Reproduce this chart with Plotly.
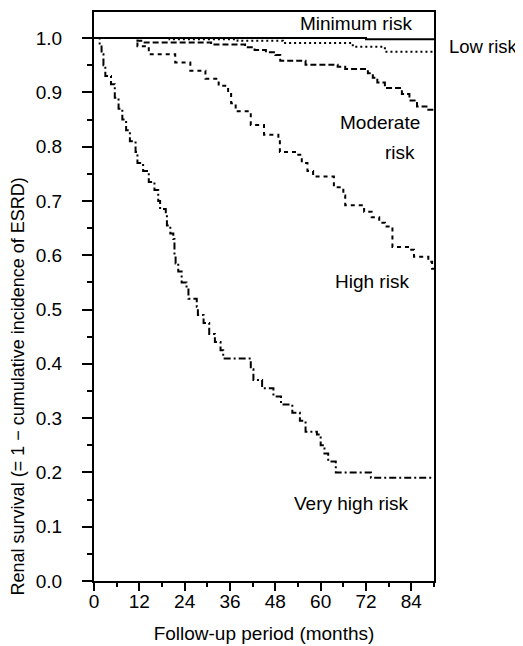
import plotly.graph_objects as go

# ---- data (months, survival) ----
min_x = [0, 72, 90]
min_y = [1.0, 0.998, 0.998]

low_x = [0, 20, 38, 50, 68.5, 77, 90]
low_y = [1.0, 0.998, 0.995, 0.991, 0.984, 0.975, 0.975]

mod_x = [0, 11.5, 13, 31, 40, 42.5, 45.5, 48, 49.3, 56, 64.5, 66.5, 72.5, 73.8, 75, 77, 81.5, 83.5, 85.5, 88, 90]
mod_y = [1.0, 0.995, 0.992, 0.988, 0.983, 0.978, 0.974, 0.969, 0.958, 0.951, 0.947, 0.943, 0.935, 0.927, 0.918, 0.908, 0.897, 0.885, 0.874, 0.868, 0.868]

high_x = [0, 11.5, 14.5, 21.5, 25.5, 29.5, 33, 35.5, 36.3, 37.5, 41.5, 45, 48.8, 49.2, 53.5, 55, 56.5, 58, 63.5, 66, 66.5, 71.5, 73.5, 75.5, 77, 79, 83.5, 84.7, 88.5, 89.5, 90]
high_y = [1.0, 0.985, 0.97, 0.955, 0.94, 0.925, 0.912, 0.897, 0.88, 0.865, 0.84, 0.822, 0.81, 0.79, 0.785, 0.77, 0.755, 0.745, 0.725, 0.71, 0.692, 0.68, 0.67, 0.66, 0.653, 0.615, 0.61, 0.597, 0.588, 0.575, 0.575]

vhigh_x = [0, 1.5, 2, 2.5, 3, 4.5, 5.5, 6.5, 7.5, 8.5, 9.5, 11, 11.5, 13, 14.5, 16, 17, 17.5, 19, 19.3, 20.2, 21, 21.3, 21.6, 22.3, 23.2, 24.5, 25, 27.2, 27.5, 29, 30.5, 32, 33.5, 34.2, 41.5, 42.2, 44.5, 47.5, 49.5, 52.5, 54.5, 56, 59, 60, 61, 62, 64, 73.3, 90]
vhigh_y = [1.0, 0.99, 0.97, 0.95, 0.93, 0.915, 0.89, 0.87, 0.85, 0.83, 0.81, 0.79, 0.77, 0.755, 0.735, 0.72, 0.70, 0.685, 0.675, 0.655, 0.64, 0.63, 0.60, 0.585, 0.57, 0.55, 0.54, 0.52, 0.505, 0.49, 0.475, 0.455, 0.44, 0.425, 0.41, 0.39, 0.37, 0.355, 0.34, 0.325, 0.31, 0.295, 0.275, 0.27, 0.25, 0.235, 0.22, 0.20, 0.19, 0.19]

x_ticks = [0, 12, 24, 36, 48, 60, 72, 84]
y_ticks = [0.0, 0.1, 0.2, 0.3, 0.4, 0.5, 0.6, 0.7, 0.8, 0.9, 1.0]

FONT = "Liberation Sans, Arial, Helvetica, sans-serif"

fig = go.Figure()
series = [
    (min_x, min_y, "solid"),
    (low_x, low_y, "2px,3px"),
    (mod_x, mod_y, "6px,3px"),
    (high_x, high_y, "4px,4px"),
    (vhigh_x, vhigh_y, "7px,3px,2px,3px"),
]
for xs, ys, dash in series:
    fig.add_trace(go.Scatter(x=xs, y=ys, mode="lines", line_shape="hv",
                             line=dict(color="black", width=2, dash=dash),
                             showlegend=False, hoverinfo="skip"))

axis_common = dict(showgrid=False, zeroline=False, showline=True, linecolor="black",
                   linewidth=2, mirror=True, ticks="outside", tickwidth=1.5,
                   tickcolor="black", tickfont=dict(family=FONT, size=19, color="black"))

fig.update_xaxes(range=[0, 90], tickvals=x_ticks, ticktext=[str(v) for v in x_ticks], ticklen=8,
                 ticklabelstandoff=-6,
                 minor=dict(dtick=6, ticks="outside", ticklen=4, tickcolor="black", tick0=0),
                 title=dict(text="Follow-up period (months)", font=dict(family=FONT, size=19, color="black"), standoff=16),
                 **axis_common)
fig.update_yaxes(range=[0, 1.048], tickvals=y_ticks, ticktext=[f"{v:.1f}" for v in y_ticks], ticklen=10,
                 minor=dict(dtick=0.05, ticks="outside", ticklen=5, tickcolor="black", tick0=0),
                 ticklabelstandoff=16,
                 **axis_common)

ann = dict(font=dict(family=FONT, size=19, color="black"), showarrow=False, xref="x", yref="y")
fig.add_annotation(text="Minimum risk", x=69.4, y=1.027, **ann)
fig.add_annotation(text="Low risk", x=1.038, xref="paper", y=0.985, yref="y", xanchor="left",
                   showarrow=False, font=dict(family=FONT, size=18.5, color="black"))
fig.add_annotation(text="Moderate", x=86.7, y=0.845, xanchor="right", **ann)
fig.add_annotation(text="risk", x=85.6, y=0.789, xanchor="right", **ann)
fig.add_annotation(text="High risk", x=73.6, y=0.552, **ann)
fig.add_annotation(text="Very high risk", x=68.1, y=0.143, **ann)
fig.add_annotation(text="Renal survival (= 1 \u2212 cumulative incidence of ESRD)", textangle=-90,
                   xref="paper", yref="paper", x=-0.2235, y=0.342, xanchor="center", yanchor="middle",
                   showarrow=False, font=dict(family=FONT, size=18, color="black"))

# page body has an 8px default margin; size and margins compensate so the plot sits where the
# reference does and the page does not overflow the window
fig.update_layout(width=515, height=638, margin=dict(l=86, r=89, t=2, b=65),
                  plot_bgcolor="white", paper_bgcolor="white")
fig.write_html("out.html")
